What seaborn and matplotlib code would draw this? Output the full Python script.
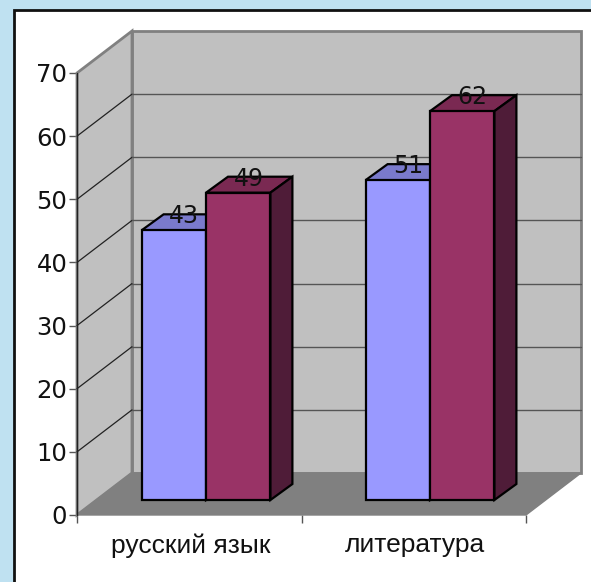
import matplotlib
matplotlib.use("Agg")
import matplotlib.pyplot as plt
import seaborn as sns
import pandas as pd
from matplotlib.patches import Polygon, Rectangle

sns.set_theme(style="white")
plt.rcParams["font.family"] = ["DejaVu Sans"]

subjects = ["русский язык", "литература"]
first_series = [43, 51]
second_series = [49, 62]
y_ticks = [0, 10, 20, 30, 40, 50, 60, 70]

W, H = 591, 582

# Box geometry in pixels
FRONT_L, FRONT_R, FRONT_B, FRONT_T = 77, 526, 515, 73
WALL_DX, WALL_DY = 55, 42
BAR_L, BAR_R, BAR_B, BAR_T = 94, 542, 500, 61
BAR_DX, BAR_DY = 22, 16


def axes_from_pixels(fig, left, right, bottom, top):
    return fig.add_axes([left / W, 1 - bottom / H, (right - left) / W, (bottom - top) / H])


df = pd.DataFrame({
    "subject": subjects * 2,
    "series": ["a"] * 2 + ["b"] * 2,
    "value": first_series + second_series,
})

fig = plt.figure(figsize=(W / 100, H / 100), dpi=100, facecolor="#BFE1F1")

# White panel with black frame
fig.add_artist(Rectangle((14 / W, -0.01), (W + 10 - 14) / W, 1.01 - 9.5 / H, transform=fig.transFigure,
                         facecolor="white", edgecolor="#111111", linewidth=2, zorder=-1))

# Axis box: walls, floor, ticks
ax = axes_from_pixels(fig, FRONT_L, FRONT_R, FRONT_B, FRONT_T)
ax.set_xlim(0, 2)
ax.set_ylim(0, 70)
ax.patch.set_alpha(0)
wdx = WALL_DX / (FRONT_R - FRONT_L) * 2
wdy = WALL_DY / (FRONT_B - FRONT_T) * 70
ax.add_patch(Polygon([(wdx, wdy), (2 + wdx, wdy), (2 + wdx, 70 + wdy), (wdx, 70 + wdy)], facecolor="#C0C0C0",
                     edgecolor="#808080", linewidth=2, clip_on=False, zorder=1))
ax.add_patch(Polygon([(0, 0), (wdx, wdy), (wdx, 70 + wdy), (0, 70)], facecolor="#C0C0C0",
                     edgecolor="#808080", linewidth=2, clip_on=False, zorder=1))
ax.add_patch(Polygon([(0, 0), (2, 0), (2 + wdx, wdy), (wdx, wdy)], facecolor="#808080",
                     edgecolor="#808080", linewidth=1, clip_on=False, zorder=1.5))
for t in y_ticks[1:-1]:
    ax.plot([0, wdx], [t, t + wdy], color="#222222", linewidth=0.9, clip_on=False, zorder=1.2)
    ax.plot([wdx, 2 + wdx], [t + wdy, t + wdy], color="#555555", linewidth=1, clip_on=False, zorder=1.2)
ax.plot([0, 0], [0, 70], color="#222222", linewidth=1, clip_on=False, zorder=1.6)

for s in ax.spines.values():
    s.set_visible(False)
ax.set_yticks(y_ticks)
ax.set_xticks([0, 1, 2])
ax.set_xticklabels([])
ax.tick_params(axis="y", length=6, width=1, color="#555555", left=True, labelsize=17.5, pad=1, labelcolor="#111111")
ax.tick_params(axis="x", length=6, width=1, color="#555555", bottom=True)
for i, name in enumerate(subjects):
    ax.text(i + 0.5 + 0.006, -0.069, name, transform=ax.get_xaxis_transform(), ha="center", va="center",
            fontsize=19, family="Liberation Sans", color="#111111")

# Bars
bar_ax = axes_from_pixels(fig, BAR_L, BAR_R, BAR_B, BAR_T)
bar_ax.patch.set_alpha(0)
sns.barplot(data=df, x="subject", y="value", hue="series", palette=["#9999FF", "#993366"], width=0.575,
            gap=0, saturation=1, legend=False, ax=bar_ax, edgecolor="black", linewidth=1.6)
bar_ax.set_xlim(-0.5, 1.5)
bar_ax.set_ylim(0, 70)
bar_ax.axis("off")

ddx = BAR_DX / (BAR_R - BAR_L) * 2
ddy = BAR_DY / (BAR_B - BAR_T) * 70
bars = sorted(bar_ax.patches, key=lambda p: p.get_x())
for k, bar in enumerate(bars):
    x0, x1, h = bar.get_x(), bar.get_x() + bar.get_width(), bar.get_height()
    is_blue = k % 2 == 0
    z = 2 if is_blue else 4
    bar.set_zorder(z + 1)
    bar.set_clip_on(False)
    top = [(x0, h), (x1, h), (x1 + ddx, h + ddy), (x0 + ddx, h + ddy)]
    side = [(x1, 0), (x1 + ddx, ddy), (x1 + ddx, h + ddy), (x1, h)]
    for pts, color in [(top, "#7A7ACC" if is_blue else "#7A2952"), (side, "#4D4D80" if is_blue else "#4F1C38")]:
        bar_ax.add_patch(Polygon(pts, facecolor=color, edgecolor="black", linewidth=1.6, zorder=z, clip_on=False))
    bar_ax.annotate(f"{h:g}", (x0 + bar.get_width() / 2, h), xytext=(7.5, 10), textcoords="offset points",
                    ha="center", va="center", fontsize=17, color="#111111", zorder=6)

fig.savefig("out.png", dpi=100, facecolor=fig.get_facecolor())
